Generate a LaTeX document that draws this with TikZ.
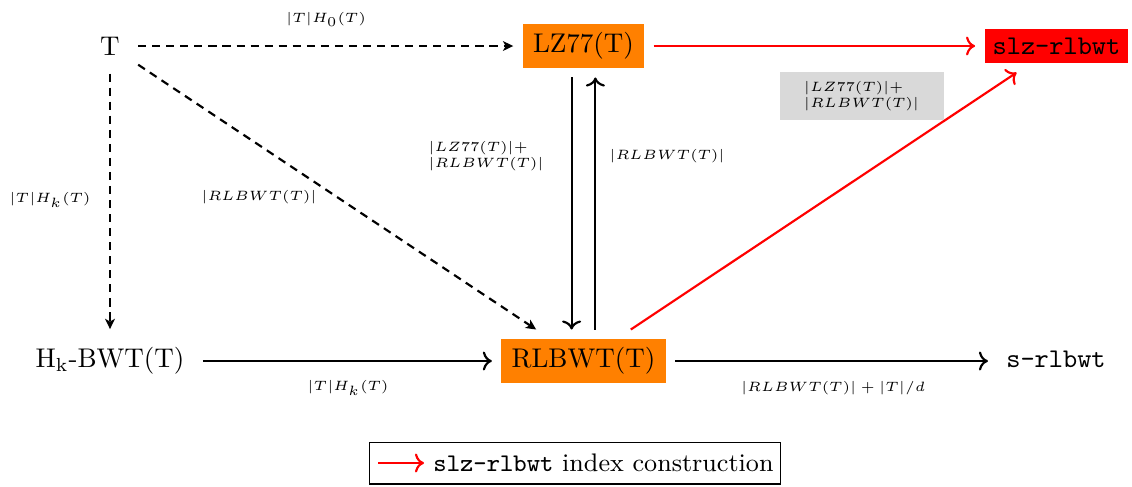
\documentclass[tikz,border=0pt]{standalone}
\usetikzlibrary{arrows.meta}
\begin{document}
\begin{tikzpicture}[x=0.37pt,y=-0.37pt,
  main/.style={outer sep=3.5pt, inner sep=3.3pt, font=\normalsize},
  obox/.style={main, fill=orange, inner xsep=3.8pt, inner ysep=3.15pt},
  lbl/.style={font=\tiny, inner sep=0pt},
  dsh/.style={thick, dash pattern=on 3pt off 2.2pt, -{Stealth[length=3.8pt,width=3.6pt,inset=1pt]}},
  sol/.style={thick, ->},
  rsol/.style={thick, red, ->},
]
\useasboundingbox (0,0) rectangle (1132,486);
% main nodes
\node[main] (T) at (110,46) {T};
\node[obox] (lz) at (583.5,46) {LZ77(T)};
\node[main, fill=red, inner xsep=3pt, inner ysep=3.25pt] (slz) at (1056.5,46) {\texttt{slz-rlbwt}};
\node[main] (hk) at (110,361) {H$_{\mathrm{k}}$-BWT(T)};
\node[obox] (rl) at (583.5,361) {RLBWT(T)};
\node[main, text height=7.5pt, text depth=2.5pt] (srl) at (1056,361) {\texttt{s-rlbwt}};
% connectors
\draw[dsh] (T) -- (lz);
\draw[dsh] (T) -- (rl);
\draw[dsh] (T) -- (hk);
\draw[sol] ([xshift=-4.4pt]lz.south) -- ([xshift=-4.4pt]rl.north);
\draw[sol] ([xshift=4.4pt]rl.north) -- ([xshift=4.4pt]lz.south);
\draw[rsol] (lz) -- (slz);
\draw[rsol] (rl) -- (slz);
\draw[sol] (hk) -- (rl);
\draw[sol] (rl) -- (srl);
% labels
\node[lbl] (l1) at (326,19) {$|T|H_0(T)$};
\node[lbl] (l2) at (50,200) {$|T|H_k(T)$};
\node[lbl] (l3) at (259,197) {$|RLBWT(T)|$};
\node[lbl, align=left] (l4) at (486,156) {$|LZ77(T)|+$\\$|RLBWT(T)|$};
\node[lbl] (l5) at (667,156) {$|RLBWT(T)|$};
\node[lbl, fill=gray!30, inner xsep=9pt, inner ysep=3.5pt, align=left] (l6) at (861.5,96) {$|LZ77(T)|+$\\$|RLBWT(T)|$};
\node[lbl] (l7) at (348,388) {$|T|H_k(T)$};
\node[lbl] (l8) at (833,388) {$|RLBWT(T)|+|T|/d$};
% legend
\node[draw, minimum width=152.4pt, minimum height=15.5pt, inner sep=0pt] (leg) at (575,463) {};
\node[anchor=west, inner sep=3.3pt, font=\fontsize{9.4}{11}\selectfont] (legt) at (424,463) {\texttt{slz-rlbwt} index construction};
\coordinate (la) at (378,463);
\draw[rsol] (la) -- (legt.west);
\end{tikzpicture}
\end{document}
